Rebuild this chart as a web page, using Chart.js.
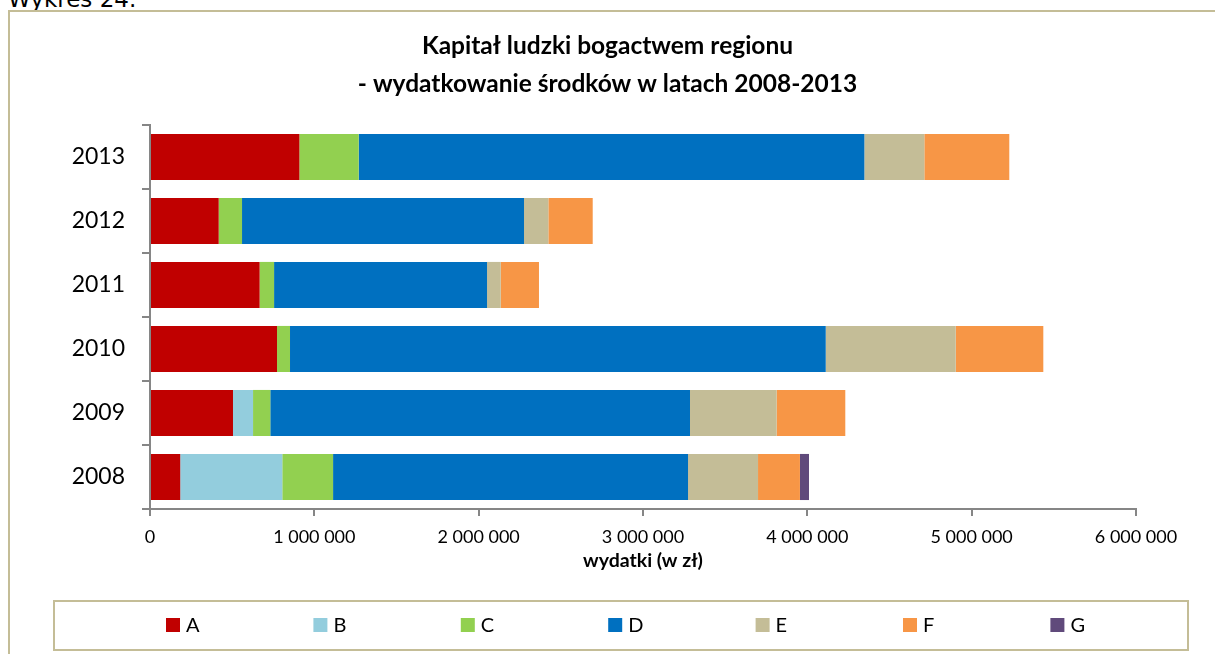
<!DOCTYPE html>
<html>
<head>
<meta charset="utf-8">
<script src="https://cdn.jsdelivr.net/npm/chart.js@4"></script>
<style>
  html, body { margin: 0; padding: 0; background: #fff; width: 1215px; height: 654px; overflow: hidden; }
  #frame { position: absolute; left: 8px; top: 10px; width: 1300px; height: 800px; border-left: 2px solid #C4BD97; border-top: 2px solid #C4BD97; }
  #caption { position: absolute; left: 8px; top: -14px; font-family: "DejaVu Sans", Verdana, sans-serif; font-size: 23px; line-height: 27px; color: #000; white-space: nowrap; }
  #wrap { position: absolute; left: 0; top: 0; width: 1215px; height: 654px; }
</style>
</head>
<body>
<div id="caption">Wykres 24.</div>
<div id="frame"></div>
<div id="wrap"><canvas id="c" width="1215" height="654"></canvas></div>
<script>
// ---- data ----
const years = ['2008', '2009', '2010', '2011', '2012', '2013'];
const seriesNames = ['A', 'B', 'C', 'D', 'E', 'F', 'G'];
const valuesA = [184000, 505000, 773000, 667000, 418000, 909000];
const valuesB = [621000, 122000, null, null, null, null];
const valuesC = [309000, 105000, 79000, 88000, 142000, 361000];
const valuesD = [2160000, 2554000, 3260000, 1296000, 1716000, 3077000];
const valuesE = [426000, 527000, 791000, 83000, 148000, 365000];
const valuesF = [255000, 418000, 533000, 233000, 270000, 517000];
const valuesG = [55000, null, null, null, null, null];
const xTickValues = [0, 1000000, 2000000, 3000000, 4000000, 5000000, 6000000];
const titleLines = ['Kapitał ludzki bogactwem regionu', '- wydatkowanie środków w latach 2008-2013'];
const xAxisTitle = 'wydatki (w zł)';

const seriesValues = [valuesA, valuesB, valuesC, valuesD, valuesE, valuesF, valuesG];
const seriesColors = ['#C00000', '#93CDDD', '#92D050', '#0070C0', '#C4BD97', '#F79646', '#604A7B'];

const FONT = 'Lato, "Open Sans", sans-serif';

function fmt(v) { return String(v).replace(/\B(?=(\d{3})+(?!\d))/g, ' '); }

const legendBoxPlugin = {
  id: 'legendBox',
  afterDraw(chart) {
    const ctx = chart.ctx;
    ctx.save();
    ctx.strokeStyle = '#C4BD97';
    ctx.lineWidth = 2;
    ctx.strokeRect(54, 601, 1134, 49);
    ctx.font = '20px ' + FONT;
    ctx.textBaseline = 'middle';
    ctx.fillStyle = '#000';
    chart.data.datasets.forEach((ds, i) => {
      const x = 166 + i * 147.4;
      ctx.fillStyle = ds.backgroundColor;
      ctx.fillRect(x, 618, 14, 14);
      ctx.fillStyle = '#000';
      ctx.fillText(ds.label, x + 20, 626);
    });
    ctx.restore();
  }
};

new Chart(document.getElementById('c'), {
  type: 'bar',
  data: {
    labels: years,
    datasets: seriesNames.map((n, i) => ({
      label: n,
      data: seriesValues[i],
      backgroundColor: seriesColors[i],
      borderWidth: 0,
      categoryPercentage: 1.0,
      barPercentage: 0.72,
      yAxisID: 'y'
    }))
  },
  options: {
    indexAxis: 'y',
    responsive: false,
    animation: false,
    layout: { padding: { left: 0, right: 0, top: 0, bottom: 82 } },
    plugins: {
      legend: { display: false },
      tooltip: { enabled: false },
      title: {
        display: true,
        text: titleLines,
        color: '#000',
        font: { family: FONT, size: 24.5, weight: 'bold', lineHeight: 1.55 },
        padding: { top: 27.5, bottom: 21.5 }
      }
    },
    scales: {
      x: {
        stacked: true,
        min: 0,
        max: 6000000,
        afterBuildTicks: (s) => { s.ticks = xTickValues.map(v => ({ value: v })); },
        afterFit: (s) => { s.height = 63; },
        ticks: { color: '#000', font: { family: FONT, size: 18 }, padding: 10, callback: (v) => fmt(v), maxRotation: 0 },
        grid: { drawOnChartArea: false, drawTicks: true, tickLength: 7, color: '#868686', lineWidth: 2 },
        border: { display: true, color: '#868686', width: 2 },
        title: { display: true, text: xAxisTitle, color: '#000', font: { family: FONT, size: 19.5, weight: 'bold', lineHeight: 1.2 }, padding: 0 }
      },
      y: {
        stacked: true,
        reverse: true,
        afterFit: (s) => { s.width = 150; },
        ticks: { color: '#000', font: { family: FONT, size: 23 }, padding: 17 },
        grid: { offset: true, drawOnChartArea: false, drawTicks: true, tickLength: 8, color: '#868686', lineWidth: 2 },
        border: { display: true, color: '#868686', width: 2 }
      },
      yRight: {
        type: 'category',
        axis: 'y',
        position: 'right',
        afterFit: (s) => { s.width = 79; },
        ticks: { display: false },
        grid: { display: false, drawTicks: false },
        border: { display: false }
      }
    }
  },
  plugins: [legendBoxPlugin]
});
</script>
</body>
</html>
